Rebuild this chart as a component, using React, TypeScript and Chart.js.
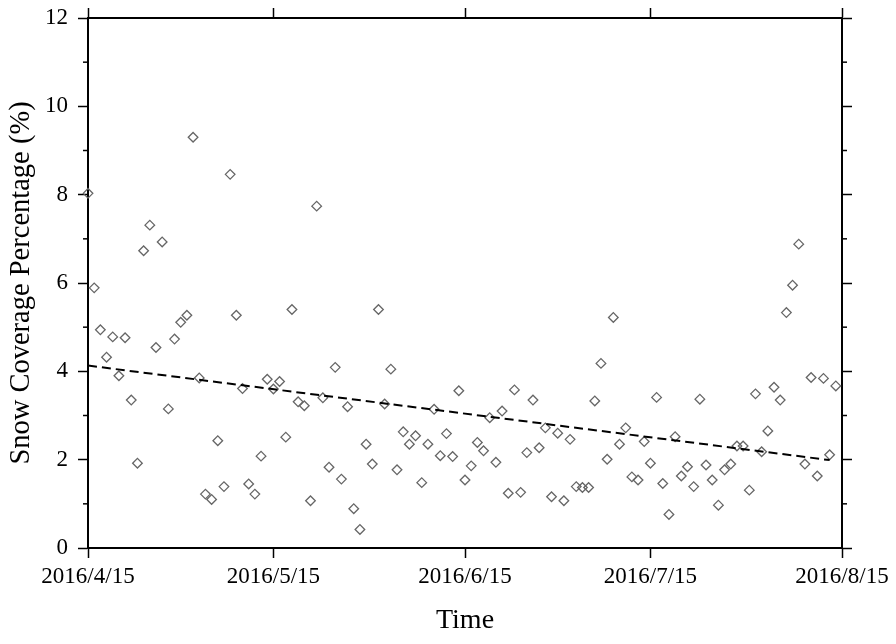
import React, { useEffect, useRef } from "react";
import { Chart, registerables } from "chart.js";

Chart.register(...registerables);

// Daily values starting 2016/4/15 (index = days since 2016/4/15)
const snowValues: number[] = [
  8.03, 5.89, 4.94, 4.32, 4.78, 3.90, 4.76, 3.35, 1.92, 6.73,
  7.31, 4.54, 6.93, 3.15, 4.73, 5.11, 5.27, 9.30, 3.85, 1.22,
  1.10, 2.43, 1.39, 8.46, 5.27, 3.61, 1.45, 1.22, 2.08, 3.82,
  3.60, 3.77, 2.51, 5.40, 3.31, 3.22, 1.07, 7.74, 3.40, 1.83,
  4.09, 1.56, 3.20, 0.89, 0.42, 2.35, 1.90, 5.40, 3.26, 4.05,
  1.77, 2.63, 2.35, 2.54, 1.48, 2.35, 3.14, 2.09, 2.59, 2.07,
  3.56, 1.54, 1.86, 2.39, 2.20, 2.95, 1.94, 3.10, 1.24, 3.58,
  1.26, 2.16, 3.35, 2.27, 2.72, 1.16, 2.60, 1.07, 2.46, 1.39,
  1.37, 1.37, 3.33, 4.18, 2.01, 5.22, 2.35, 2.72, 1.61, 1.54,
  2.41, 1.92, 3.41, 1.46, 0.76, 2.52, 1.63, 1.84, 1.39, 3.37,
  1.88, 1.54, 0.97, 1.77, 1.90, 2.31, 2.31, 1.31, 3.49, 2.18,
  2.65, 3.64, 3.35, 5.33, 5.95, 6.88, 1.90, 3.86, 1.63, 3.84,
  2.11, 3.67,
];

const trendDays: number[] = [0, 120];
const trendValues: number[] = [4.13, 1.99];

const xTickDays: number[] = [0, 30, 61, 91, 122];
const xTickLabels: string[] = ["2016/4/15", "2016/5/15", "2016/6/15", "2016/7/15", "2016/8/15"];
const minorYValues: number[] = [1, 3, 5, 7, 9, 11];

const FONT = "'Liberation Serif', 'Times New Roman', serif";

const minorTicksPlugin = {
  id: "minorTicks",
  afterDraw(chart: any) {
    const ctx = chart.ctx;
    ["y", "y2"].forEach((id) => {
      const s = chart.scales[id];
      if (!s) return;
      ctx.save();
      ctx.strokeStyle = "#000";
      ctx.lineWidth = 1.5;
      minorYValues.forEach((v) => {
        const py = s.getPixelForValue(v);
        ctx.beginPath();
        if (s.position === "left") {
          ctx.moveTo(s.right, py);
          ctx.lineTo(s.right - 5, py);
        } else {
          ctx.moveTo(s.left, py);
          ctx.lineTo(s.left + 5, py);
        }
        ctx.stroke();
      });
      ctx.restore();
    });
  },
};

export default function App() {
  const ref = useRef<HTMLCanvasElement | null>(null);

  useEffect(() => {
    if (!ref.current) return;
    const setXTicks = (scale: any) => {
      scale.ticks = xTickDays.map((v) => ({ value: v }));
    };
    const grid = {
      display: true,
      drawOnChartArea: false,
      drawTicks: true,
      tickLength: 10,
      tickColor: "#000",
      tickWidth: 1.5,
    };
    const border = { display: true, color: "#000", width: 2 };

    const chart = new Chart(ref.current, {
      type: "scatter",
      data: {
        datasets: [
          {
            type: "line",
            label: "Trend",
            data: trendDays.map((d, i) => ({ x: d, y: trendValues[i] })),
            borderColor: "#000",
            borderWidth: 2,
            borderDash: [9, 5],
            pointRadius: 0,
            fill: false,
            xAxisID: "x",
            yAxisID: "y",
          } as any,
          {
            type: "scatter",
            label: "Snow",
            data: snowValues.map((v, i) => ({ x: i, y: v })),
            pointStyle: "rectRot",
            pointRadius: 4.8,
            pointHoverRadius: 4.8,
            borderColor: "#666666",
            borderWidth: 1.3,
            backgroundColor: "rgba(0,0,0,0)",
            clip: false,
            xAxisID: "x",
            yAxisID: "y",
          } as any,
        ],
      },
      options: {
        responsive: false,
        animation: false,
        events: [],
        layout: { padding: 0 },
        plugins: {
          legend: { display: false },
          tooltip: { enabled: false },
        },
        scales: {
          x: {
            type: "linear",
            position: "bottom",
            min: 0,
            max: 122,
            afterBuildTicks: setXTicks,
            afterFit: (s: any) => {
              s.height = 96;
            },
            grid,
            border,
            ticks: {
              color: "#000",
              font: { family: FONT, size: 23 },
              padding: 5,
              maxRotation: 0,
              autoSkip: false,
              callback: (v: any) => {
                const i = xTickDays.indexOf(Number(v));
                return i >= 0 ? xTickLabels[i] : "";
              },
            },
            title: {
              display: true,
              text: "Time",
              color: "#000",
              font: { family: FONT, size: 28, lineHeight: 1 },
              padding: { top: 0, bottom: 9 },
            },
          },
          x2: {
            type: "linear",
            position: "top",
            min: 0,
            max: 122,
            afterBuildTicks: setXTicks,
            afterFit: (s: any) => {
              s.height = 18;
            },
            grid,
            border,
            ticks: { display: false },
          },
          y: {
            type: "linear",
            position: "left",
            min: 0,
            max: 12,
            afterFit: (s: any) => {
              s.width = 88;
            },
            grid,
            border,
            ticks: {
              stepSize: 2,
              color: "#000",
              font: { family: FONT, size: 23, lineHeight: 0.5 },
              padding: 10,
            },
            title: {
              display: true,
              text: "Snow Coverage Percentage (%)",
              color: "#000",
              font: { family: FONT, size: 28.5, lineHeight: 1 },
              padding: { top: 7, bottom: 0 },
            },
          },
          y2: {
            type: "linear",
            position: "right",
            min: 0,
            max: 12,
            afterFit: (s: any) => {
              s.width = 54;
            },
            grid,
            border,
            ticks: { stepSize: 2, display: false },
          },
        },
      },
      plugins: [minorTicksPlugin],
    });
    return () => chart.destroy();
  }, []);

  return (
    <div style={{ position: "absolute", left: 0, top: 0, width: 896, height: 644, background: "#fff" }}>
      <canvas ref={ref} width={896} height={644} style={{ display: "block" }} />
    </div>
  );
}
